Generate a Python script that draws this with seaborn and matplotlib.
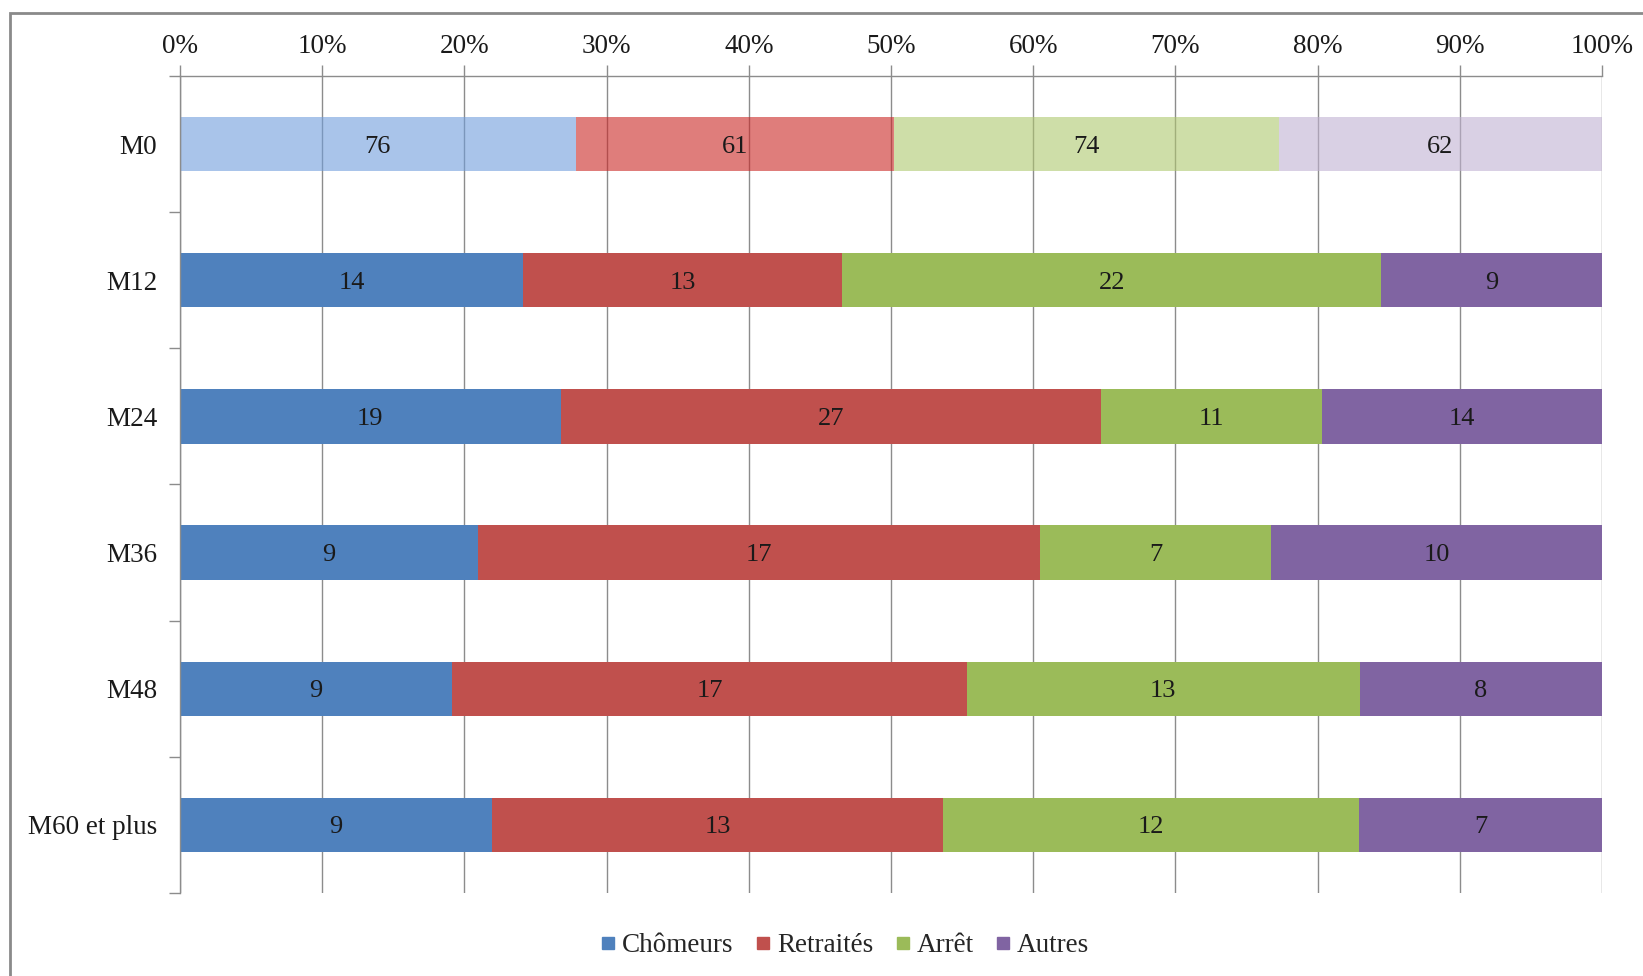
import numpy as np
import pandas as pd
import matplotlib
matplotlib.use('Agg')
import matplotlib.pyplot as plt
from matplotlib.lines import Line2D
from matplotlib.patches import Rectangle
from matplotlib.ticker import FixedLocator, PercentFormatter
import seaborn as sns

# data
periodes = ['M0', 'M12', 'M24', 'M36', 'M48', 'M60 et plus']
series = ['Chômeurs', 'Retraités', 'Arrêt', 'Autres']
chomeurs = [76, 14, 19, 9, 9, 9]
retraites = [61, 13, 27, 17, 17, 13]
arret = [74, 22, 11, 7, 13, 12]
autres = [62, 9, 14, 10, 8, 7]

colors = ['#4F81BD', '#C0504D', '#9BBB59', '#8064A2']
# M0 bars are drawn faded (semi transparent, grid shows through)
faded = ['#709DDC', '#CB2623', '#AEC86E', '#C0B1D2']

counts = pd.DataFrame(
	{'Chômeurs': chomeurs, 'Retraités': retraites, 'Arrêt': arret, 'Autres': autres},
	index=periodes,
)
pct = counts.div(counts.sum(axis=1), axis=0) * 100
lefts = pct.cumsum(axis=1) - pct

sns.set_theme(style='white')
plt.rcParams['font.family'] = ['Liberation Serif', 'DejaVu Serif']

fig = plt.figure(figsize=(16.43, 9.76), dpi=100)
ax = fig.add_axes([180 / 1643, 1 - 893 / 976, (1602 - 180) / 1643, (893 - 76) / 976])

for i, s in enumerate(series):
	df = pd.DataFrame({'periode': periodes, 'pct': pct[s].values, 'left': lefts[s].values})
	n_before = len(ax.patches)
	sns.barplot(
		data=df,
		x='pct',
		y='periode',
		order=periodes,
		left=df['left'].values,
		color=colors[i],
		saturation=1,
		width=0.4,
		linewidth=0,
		orient='h',
		zorder=2,
		ax=ax,
	)
	bars = ax.patches[n_before:]
	bars[0].set_facecolor(faded[i])
	bars[0].set_alpha(0.6)
	txts = ax.bar_label(
		ax.containers[-1],
		labels=[str(v) for v in counts[s].values],
		label_type='center',
		fontsize=19,
		color='#1a1a1a',
		zorder=4,
	)
	for t in txts:
		t.set_verticalalignment('center_baseline')

grid_c = '#8C8C8C'
ax.set_xlim(0, 100)
ax.set_ylim(5.5, -0.5)
ax.set_xticks(np.arange(0, 101, 10))
ax.xaxis.set_major_formatter(PercentFormatter(decimals=0))
ax.xaxis.tick_top()
ax.xaxis.set_label_position('top')
ax.set_xlabel('')
ax.set_ylabel('')
ax.grid(axis='x', color=grid_c, linewidth=1, zorder=0)
ax.set_axisbelow(True)

ax.yaxis.set_minor_locator(FixedLocator(np.arange(-0.5, 6, 1)))
ax.tick_params(axis='y', which='major', length=0, pad=16.5, labelsize=19.5, labelcolor='#1a1a1a')
ax.tick_params(axis='y', which='minor', length=8, width=1, color=grid_c, left=True)
ax.tick_params(axis='x', which='major', length=8, width=1, color=grid_c, pad=4,
	labelsize=19.5, labelcolor='#1a1a1a', top=True, bottom=False)

for side in ['right', 'bottom']:
	ax.spines[side].set_visible(False)
for side in ['top', 'left']:
	ax.spines[side].set_color(grid_c)
	ax.spines[side].set_linewidth(1)

# legend
handles = [
	Line2D([0], [0], marker='s', color=c, ls='None', ms=9, label=s)
	for s, c in zip(series, colors)
]
fig.legend(
	handles=handles,
	loc='center',
	bbox_to_anchor=(842 / 1643, 1 - 946 / 976),
	ncol=4,
	frameon=False,
	fontsize=19.5,
	handletextpad=0.0,
	columnspacing=0.6,
	handlelength=1.0,
)

# chart frame (left and top edges visible)
fig.patches.append(Rectangle(
	(10 / 1643, -0.5), 2, 1.5 - 13 / 976,
	transform=fig.transFigure, fill=False, edgecolor='#8A8A8A', linewidth=2,
))

fig.savefig('out.png', dpi=100)
